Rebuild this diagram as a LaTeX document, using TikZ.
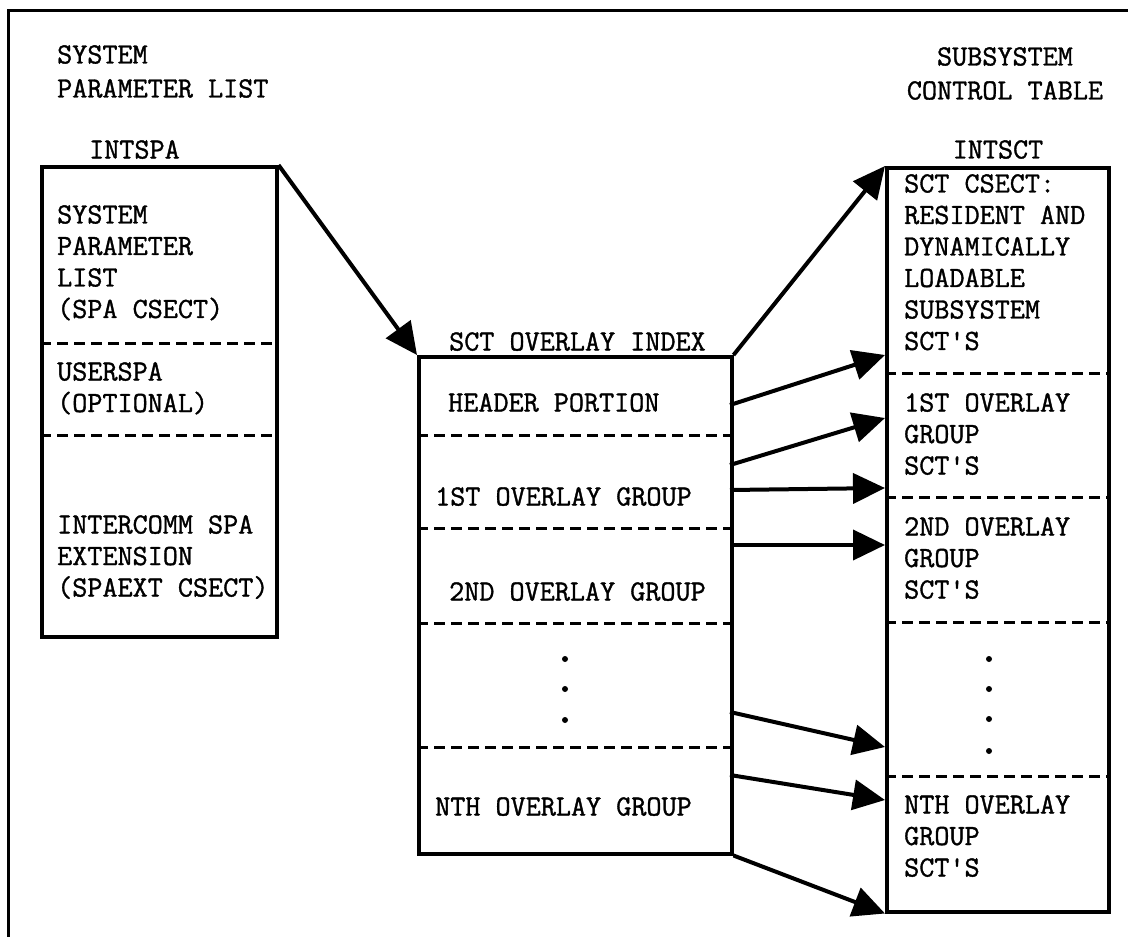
\documentclass[tikz,border=0pt]{standalone}
\usepackage{fontspec}
\setmonofont{Latin Modern Mono}[FakeBold=1.2]
\usetikzlibrary{arrows.meta}
\begin{document}
\begin{tikzpicture}[x=1pt,y=-1pt,
  txt/.style={font=\fontsize{29.3}{31.5}\selectfont\ttfamily, inner sep=0pt, anchor=north west, align=left},
  box/.style={draw, line width=3.5pt, anchor=north west, inner sep=0pt},
  divider/.style={line width=3pt, dash pattern=on 11pt off 6pt},
  arr/.style={line width=4pt, -{Triangle[length=32pt,width=30pt]}},
  dotmark/.style={circle, fill, inner sep=0pt, minimum size=6pt}]
\useasboundingbox (0,0) rectangle (1128,937);
% frame (only top and left visible)
\draw[line width=3pt] (8,937) -- (8,10) -- (1128,10);

% titles
\node[txt, font=\fontsize{29.3}{34}\selectfont\ttfamily] (tspa) at (57,45) {SYSTEM\\PARAMETER LIST};
\node[txt] (tintspa) at (89,140) {INTSPA};
\node[txt, anchor=north, align=center, font=\fontsize{29.3}{34}\selectfont\ttfamily] (tsct) at (1005,47) {SUBSYSTEM\\CONTROL TABLE};
\node[txt, anchor=north] (tintsct) at (998,140) {INTSCT};
\node[txt] (tidx) at (449,332) {SCT OVERLAY INDEX};

% boxes
\node[box, minimum width=235pt, minimum height=470pt] (spa) at (40,165) {};
\node[box, minimum width=313pt, minimum height=497pt] (idx) at (417,355) {};
\node[box, minimum width=222pt, minimum height=744pt] (sct) at (885,166) {};

% dividers
\draw[divider] (40,343) -- (275,343);
\draw[divider] (40,435) -- (275,435);
\draw[divider] (417,435) -- (730,435);
\draw[divider] (417,528) -- (730,528);
\draw[divider] (417,623) -- (730,623);
\draw[divider] (417,747) -- (730,747);
\draw[divider] (885,373) -- (1107,373);
\draw[divider] (885,497) -- (1107,497);
\draw[divider] (885,622) -- (1107,622);
\draw[divider] (885,776) -- (1107,776);

% left box text
\node[txt] (spa1) at (57,205) {SYSTEM\\PARAMETER\\LIST\\(SPA CSECT)};
\node[txt] (spa2) at (57,362) {USERSPA\\(OPTIONAL)};
\node[txt] (spa3) at (57,515) {INTERCOMM SPA\\EXTENSION\\(SPAEXT CSECT)};

% middle box text
\node[txt] (idx1) at (448,393) {HEADER PORTION};
\node[txt] (idx2) at (435,487) {1ST OVERLAY GROUP};
\node[txt] (idx3) at (449,582) {2ND OVERLAY GROUP};
\node[txt] (idx4) at (435,797) {NTH OVERLAY GROUP};
\node[dotmark] (md1) at (565,659) {};
\node[dotmark] (md2) at (565,689) {};
\node[dotmark] (md3) at (565,720) {};

% right box text
\node[txt] (sct1) at (904,174) {SCT CSECT:\\RESIDENT AND\\DYNAMICALLY\\LOADABLE\\SUBSYSTEM\\SCT'S};
\node[txt] (sct2) at (904,393) {1ST OVERLAY\\GROUP\\SCT'S};
\node[txt] (sct3) at (904,517) {2ND OVERLAY\\GROUP\\SCT'S};
\node[txt] (sct4) at (904,795) {NTH OVERLAY\\GROUP\\SCT'S};
\node[dotmark] (rd1) at (989,659) {};
\node[dotmark] (rd2) at (989,689) {};
\node[dotmark] (rd3) at (989,719) {};
\node[dotmark] (rd4) at (989,751) {};

% arrow end points
\coordinate (s1) at (730,405);  \coordinate (e1) at (885,355);
\coordinate (s2) at (730,465);  \coordinate (e2) at (885,418);
\coordinate (s3) at (730,490);  \coordinate (e3) at (885,488);
\coordinate (s4) at (730,545);  \coordinate (e4) at (885,545);
\coordinate (s5) at (730,712);  \coordinate (e5) at (885,747);
\coordinate (s6) at (730,775);  \coordinate (e6) at (885,800);

% arrows
\draw[arr] (spa.north east) -- (idx.north west);
\draw[arr] (idx.north east) -- (sct.north west);
\draw[arr] (s1) -- (e1);
\draw[arr] (s2) -- (e2);
\draw[arr] (s3) -- (e3);
\draw[arr] (s4) -- (e4);
\draw[arr] (s5) -- (e5);
\draw[arr] (s6) -- (e6);
\draw[arr] (idx.south east) -- (sct.south west);
\end{tikzpicture}
\end{document}
